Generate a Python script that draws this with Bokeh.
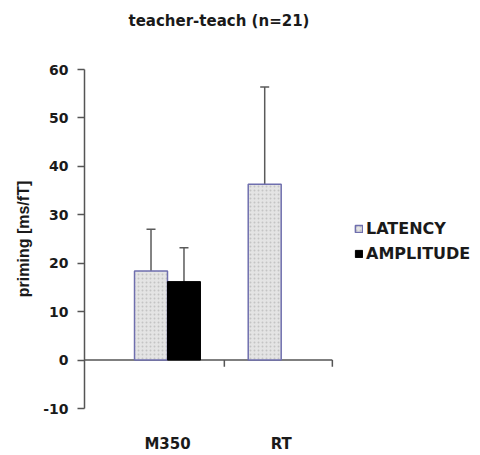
from bokeh.plotting import figure
from bokeh.models import (Range1d, FixedTicker, Whisker, TeeHead, ColumnDataSource,
                          Legend, LegendItem, Title)
from bokeh.embed import file_html
from bokeh.resources import INLINE

# ---- data -------------------------------------------------------------
categories = ["M350", "RT"]
category_pos = [1, 2]

latency = [18.4, 36.3]
latency_err = [8.6, 20.1]

amplitude_pos = [1]          # amplitude only measured for M350
amplitude = [16.2]
amplitude_err = [7.0]

y_ticks = [-10, 0, 10, 20, 30, 40, 50, 60]

# ---- layout constants --------------------------------------------------
bar_w = 0.29
dodge = 0.145
axis_start, axis_end = 0.27, 2.45
sep_ticks = [1.5, axis_end]

FONT_H = "DejaVu Sans"
FONT_V = "Liberation Sans"
AXIS_COL = "#555555"
TEXT_COL = "#1a1a1a"
LAT_FILL = "#e4e4e4"
LAT_LINE = "#6f6fae"

p = figure(width=480, height=455, output_backend="svg", toolbar_location=None,
           title=None,
           x_range=Range1d(axis_start, 3.753), y_range=Range1d(-10, 60),
           min_border_left=84, min_border_right=0, min_border_top=69,
           min_border_bottom=38)
p.outline_line_color = None
p.xgrid.visible = False
p.ygrid.visible = False
p.background_fill_color = "white"

# title: a blank spacer next to the plot, the heading stacked above it
p.add_layout(Title(text=" ", text_font=FONT_H, text_font_size="15px",
                   standoff=11), "above")
p.add_layout(Title(text="teacher-teach (n=21)", text_font=FONT_H,
                   text_font_size="15px", text_font_style="bold",
                   text_color=TEXT_COL, align="left", offset=44,
                   standoff=18), "above")

# y axis
ya = p.yaxis[0]
ya.ticker = FixedTicker(ticks=y_ticks)
ya.major_label_overrides = {t: str(t) for t in y_ticks}
ya.minor_tick_line_color = None
ya.major_tick_in = 0
ya.major_tick_out = 7
ya.major_tick_line_color = AXIS_COL
ya.major_tick_line_width = 1.5
ya.axis_line_color = AXIS_COL
ya.axis_line_width = 1.5
ya.major_label_standoff = 9
ya.major_label_text_font = FONT_H
ya.major_label_text_font_style = "bold"
ya.major_label_text_font_size = "14px"
ya.major_label_text_color = TEXT_COL
ya.axis_label = "priming [ms/fT]"
ya.axis_label_text_font = FONT_V
ya.axis_label_text_font_style = "bold"
ya.axis_label_text_font_size = "16px"
ya.axis_label_text_color = TEXT_COL
ya.axis_label_standoff = 8

# x axis: category labels only
xa = p.xaxis[0]
xa.ticker = FixedTicker(ticks=category_pos)
xa.major_label_overrides = {pos: name for pos, name in zip(category_pos, categories)}
xa.axis_line_color = None
xa.major_tick_line_color = None
xa.minor_tick_line_color = None
xa.major_label_standoff = 20
xa.major_label_text_font = FONT_H
xa.major_label_text_font_style = "bold"
xa.major_label_text_font_size = "15px"
xa.major_label_text_color = TEXT_COL

# baseline at zero with category separator ticks
p.segment(x0=[axis_start], y0=[0], x1=[axis_end], y1=[0],
          line_color=AXIS_COL, line_width=1.5)
p.segment(x0=sep_ticks, y0=[0] * len(sep_ticks), x1=sep_ticks,
          y1=[-1.4] * len(sep_ticks), line_color=AXIS_COL, line_width=1.5)

# bars
lat_x = [c - dodge for c in category_pos]
amp_x = [c + dodge for c in amplitude_pos]
lat_src = ColumnDataSource(dict(x=lat_x, top=latency,
                                lo=[v - e for v, e in zip(latency, latency_err)],
                                hi=[v + e for v, e in zip(latency, latency_err)]))
amp_src = ColumnDataSource(dict(x=amp_x, top=amplitude,
                                lo=[v - e for v, e in zip(amplitude, amplitude_err)],
                                hi=[v + e for v, e in zip(amplitude, amplitude_err)]))

r_lat = p.vbar(x="x", top="top", bottom=0, width=bar_w, source=lat_src,
               fill_color=LAT_FILL, line_color=LAT_LINE, line_width=1.5,
               hatch_pattern="dot", hatch_color="#c4c4c4", hatch_scale=4,
               hatch_weight=1)
r_amp = p.vbar(x="x", top="top", bottom=0, width=bar_w, source=amp_src,
               fill_color="black", line_color="black", line_width=1)

# error bars: upper half over white, lower half inside the bar
for src in (lat_src, amp_src):
    p.add_layout(Whisker(base="x", lower="top", upper="hi", source=src,
                         line_color="#5a5a5a", line_width=1.5,
                         upper_head=TeeHead(size=9, line_color="#5a5a5a", line_width=1.5),
                         lower_head=None))
    p.add_layout(Whisker(base="x", lower="lo", upper="top", source=src,
                         line_color="#4a4aa0", line_width=1.5,
                         lower_head=TeeHead(size=9, line_color="#4a4aa0", line_width=1.5),
                         upper_head=None))

legend = Legend(items=[LegendItem(label="LATENCY", renderers=[r_lat]),
                       LegendItem(label="AMPLITUDE", renderers=[r_amp])],
                location=(270, 145), orientation="vertical",
                glyph_width=9, glyph_height=9, label_standoff=3,
                label_height=20, spacing=5, padding=0, margin=0,
                border_line_color=None, background_fill_alpha=0,
                label_text_font=FONT_H, label_text_font_style="bold",
                label_text_font_size="16px", label_text_color=TEXT_COL)
p.add_layout(legend)

open("out.html", "w").write(file_html(p, INLINE))
